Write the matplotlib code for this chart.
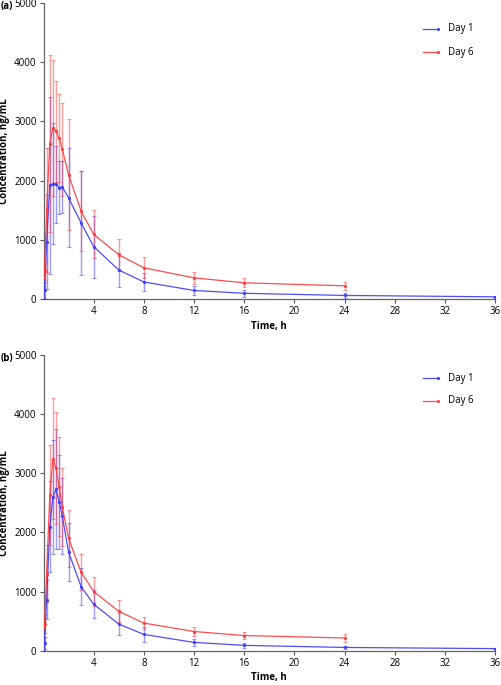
import matplotlib
matplotlib.use("Agg")
import matplotlib.pyplot as plt
from matplotlib.lines import Line2D

plt.rcParams['font.family'] = ['Open Sans', 'DejaVu Sans']

times_d1 = [0, 0.083, 0.25, 0.5, 0.75, 1, 1.25, 1.5, 2, 3, 4, 6, 8, 12, 16, 24, 36]
times_d6 = [0, 0.083, 0.25, 0.5, 0.75, 1, 1.25, 1.5, 2, 3, 4, 6, 8, 12, 16, 24]

# Panel (a)
a_d1_mean = [0, 150, 960, 1920, 1950, 1937, 1883, 1893, 1711, 1286, 889, 494, 292, 149, 101, 65, 42]
a_d1_sd = [0, 150, 790, 1495, 1025, 655, 448, 437, 833, 875, 523, 281, 146, 76, 56, 37, 12]
a_d6_mean = [380, 480, 1500, 2622, 2890, 2835, 2715, 2528, 2100, 1486, 1095, 752, 531, 362, 278, 227]
a_d6_sd = [130, 150, 1044, 1491, 1145, 850, 740, 786, 932, 671, 404, 270, 177, 104, 76, 70]

# Panel (b)
b_d1_mean = [0, 130, 864, 2093, 2594, 2727, 2518, 2273, 1663, 1081, 785, 450, 275, 140, 90, 55, 35]
b_d1_sd = [0, 100, 329, 771, 962, 1010, 796, 641, 487, 310, 240, 180, 120, 60, 40, 25, 10]
b_d6_mean = [400, 450, 1300, 2630, 3243, 3080, 2768, 2424, 1898, 1326, 1000, 665, 467, 324, 256, 215]
b_d6_sd = [170, 150, 480, 850, 1019, 946, 836, 662, 479, 301, 240, 185, 107, 70, 65, 70]

panel_labels = ['(a)', '(b)']
series_labels = ['Day 1', 'Day 6']
yticks = [0, 1000, 2000, 3000, 4000, 5000]
xticks = [4, 8, 12, 16, 20, 24, 28, 32, 36]

BLUE = '#3a3aff'
RED = '#ff3a3a'
W, H = 501, 685
fig = plt.figure(figsize=(W / 100, H / 100), dpi=100)

panels = [
    (a_d1_mean, a_d1_sd, a_d6_mean, a_d6_sd, 299.3, 2.7, 29, 52),
    (b_d1_mean, b_d1_sd, b_d6_mean, b_d6_sd, 650.7, 354.7, 378, 401),
]

AX_L, AX_R = 43.5, 495.0
for i, (m1, s1, m6, s6, ybot, ytop, leg1, leg6) in enumerate(panels):
    left = AX_L / W
    width = (AX_R - AX_L) / W
    bottom = 1 - ybot / H
    height = (ybot - ytop) / H
    ax = fig.add_axes([left, bottom, width, height])
    for t, m, s, c in [(times_d1, m1, s1, BLUE), (times_d6, m6, s6, RED)]:
        ax.errorbar(t, m, yerr=s, fmt='none', ecolor=c, elinewidth=1.0,
                    capsize=1.5, capthick=0.8, alpha=0.5, zorder=2)
        ax.plot(t, m, color=c, lw=0.9, marker='o', ms=1.3, alpha=0.9, zorder=3)
    ax.set_xlim(0, 36)
    ax.set_ylim(0, 5000)
    ax.set_xticks(xticks)
    ax.set_yticks(yticks)
    ax.tick_params(labelsize=7, length=3, width=0.8, color='#555555', pad=2)
    for sp in ['top', 'right']:
        ax.spines[sp].set_visible(False)
    for sp in ['left', 'bottom']:
        ax.spines[sp].set_color('#666666')
        ax.spines[sp].set_linewidth(0.9)
    ax.set_ylabel('Concentration, ng/mL', fontsize=7, fontweight='bold')
    ax.set_xlabel('Time, h', fontsize=7, fontweight='bold')
    ax.xaxis.set_label_coords(0.5, -21.5 / (ybot - ytop))
    ax.yaxis.set_label_coords(-(AX_L - 10.5) / (AX_R - AX_L), 0.5)
    fig.text(1 / W, 1 - (ytop + 4) / H, panel_labels[i], fontsize=7, fontweight='bold',
             ha='left', va='center')
    # legend
    for ly, c, lab in [(leg1, BLUE, series_labels[0]), (leg6, RED, series_labels[1])]:
        fig.add_artist(Line2D([423 / W, 438 / W], [1 - ly / H, 1 - ly / H], color=c, lw=0.9,
                              marker='o', markevery=[1], ms=1.3, alpha=0.9))
    leg_x = 448 / W
    fig.text(leg_x, 1 - leg1 / H, series_labels[0], fontsize=7, va='center', ha='left')
    fig.text(leg_x, 1 - leg6 / H, series_labels[1], fontsize=7, va='center', ha='left')

fig.savefig('out.png', dpi=100)
